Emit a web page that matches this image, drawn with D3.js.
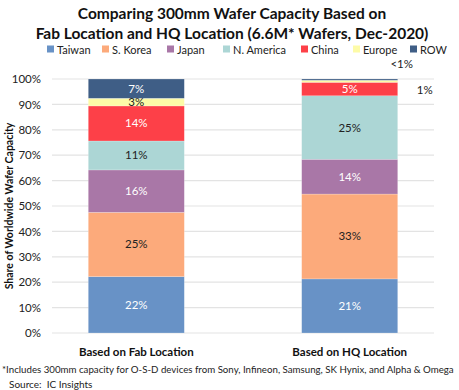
<!DOCTYPE html>
<html><head><meta charset="utf-8">
<script src="https://cdn.jsdelivr.net/npm/d3@7"></script>
<style>body{margin:0;background:#fff}svg{display:block}</style>
</head><body>
<script>
const categories = ["Based on Fab Location", "Based on HQ Location"];
const seriesNames = ["Taiwan", "S. Korea", "Japan", "N. America", "China", "Europe", "ROW"];
const taiwan = [22.2, 21.3];
const sKorea = [25.3, 33.4];
const japan = [16.7, 13.7];
const nAmerica = [11.4, 25.0];
const china = [13.8, 5.3];
const europe = [3.0, 0.8];
const row = [7.6, 0.5];
const labelsFab = ["22%", "25%", "16%", "11%", "14%", "3%", "7%"];
const labelsHQ = ["21%", "33%", "14%", "25%", "5%", "1%", "<1%"];
const yTicks = [0, 10, 20, 30, 40, 50, 60, 70, 80, 90, 100];
const colors = ["#6892c6", "#fcaa7b", "#a977a7", "#acd6d5", "#fd4048", "#fdfba7", "#3f5e86"];
const textColors = ["#fff", "#222", "#fff", "#222", "#fff", "#222", "#fff"];

const W = 459, H = 390;
const svg = d3.select("body").append("svg").attr("width", W).attr("height", H);
const font = "Lato, 'Open Sans', sans-serif";

const data = categories.map((c, i) => {
  const o = {cat: c};
  const arrs = [taiwan, sKorea, japan, nAmerica, china, europe, row];
  seriesNames.forEach((s, j) => o[s] = arrs[j][i]);
  return o;
});
const stack = d3.stack().keys(seriesNames)(data);

const x = d3.scaleBand().domain(categories).range([52, 434]).paddingInner(0.55).paddingOuter(0.17);
const y = d3.scaleLinear().domain([0, 100]).range([333, 79]);

// gridlines
svg.append("g").selectAll("line").data(yTicks).join("line")
  .attr("x1", 52).attr("x2", 434)
  .attr("y1", d => y(d)).attr("y2", d => y(d))
  .attr("stroke", "#e3e3e3").attr("stroke-width", 1.2);

// y axis
const ya = svg.append("g").attr("transform", "translate(52,0)")
  .call(d3.axisLeft(y).tickValues(yTicks).tickFormat(d => d + "%").tickSize(0).tickPadding(11));
ya.select(".domain").remove();
ya.selectAll("text").attr("font-family", font).attr("font-size", 11.5).attr("fill", "#222");

// bars
const g = svg.append("g");
stack.forEach((layer, j) => {
  g.append("g").selectAll("rect").data(layer).join("rect")
    .attr("x", d => x(d.data.cat))
    .attr("width", x.bandwidth())
    .attr("y", d => y(d[1]))
    .attr("height", d => y(d[0]) - y(d[1]))
    .attr("fill", colors[j])
    .attr("stroke", "#fff").attr("stroke-opacity", 0.35).attr("stroke-width", 0.6);
});

// labels
const labelSets = [labelsFab, labelsHQ];
stack.forEach((layer, j) => {
  layer.forEach((d, i) => {
    const lab = labelSets[i][j];
    const h = y(d[0]) - y(d[1]);
    let lx = x(d.data.cat) + x.bandwidth() / 2, ly = (y(d[0]) + y(d[1])) / 2 + 4;
    let fill = textColors[j], anchor = "middle";
    if (h < 5) {
      fill = "#222";
      if (j === 5) { lx = x(d.data.cat) + x.bandwidth() + 27; ly = y(d[1]) + 14; }
      else { lx = x(d.data.cat) + x.bandwidth() + 4; ly = y(d[1]) - 11; }
    }
    svg.append("text").attr("x", lx).attr("y", ly).attr("text-anchor", anchor)
      .attr("font-family", font).attr("font-size", 11.5).attr("fill", fill).text(lab);
  });
});

// x labels
svg.append("g").selectAll("text").data(categories).join("text")
  .attr("x", d => x(d) + x.bandwidth() / 2).attr("y", 356)
  .attr("text-anchor", "middle").attr("font-family", font).attr("font-weight", "bold")
  .attr("font-size", 11.5).attr("fill", "#111").text(d => d);

// title
svg.append("text").attr("x", 232).attr("y", 19).attr("text-anchor", "middle")
  .attr("font-family", font).attr("font-weight", "bold").attr("font-size", 15.5).attr("fill", "#111")
  .text("Comparing 300mm Wafer Capacity Based on");
svg.append("text").attr("x", 232).attr("y", 39).attr("text-anchor", "middle")
  .attr("font-family", font).attr("font-weight", "bold").attr("font-size", 15.5).attr("fill", "#111")
  .text("Fab Location and HQ Location (6.6M* Wafers, Dec-2020)");

// legend
const legX = [47, 102, 167, 223, 301, 353, 410];
const leg = svg.append("g");
seriesNames.forEach((s, j) => {
  leg.append("rect").attr("x", legX[j]).attr("y", 45.5).attr("width", 7).attr("height", 7).attr("fill", colors[j]);
  leg.append("text").attr("x", legX[j] + 10).attr("y", 54).attr("font-family", font)
    .attr("font-size", 11).attr("fill", "#222").text(s);
});

// y title
svg.append("text").attr("transform", "translate(13,206) rotate(-90)").attr("text-anchor", "middle")
  .attr("font-family", font).attr("font-weight", "bold").attr("font-size", 10.5).attr("fill", "#111")
  .text("Share of Worldwide Wafer Capacity");

// footnotes
svg.append("text").attr("x", 2).attr("y", 373).attr("font-family", font).attr("font-size", 9.7).attr("fill", "#222")
  .text("*Includes 300mm capacity for O-S-D devices from Sony, Infineon, Samsung, SK Hynix, and Alpha & Omega");
svg.append("text").attr("x", 9).attr("y", 388).attr("font-family", font).attr("font-size", 10).attr("fill", "#222")
  .attr("xml:space", "preserve").text("Source:  IC Insights");
</script>
</body></html>
